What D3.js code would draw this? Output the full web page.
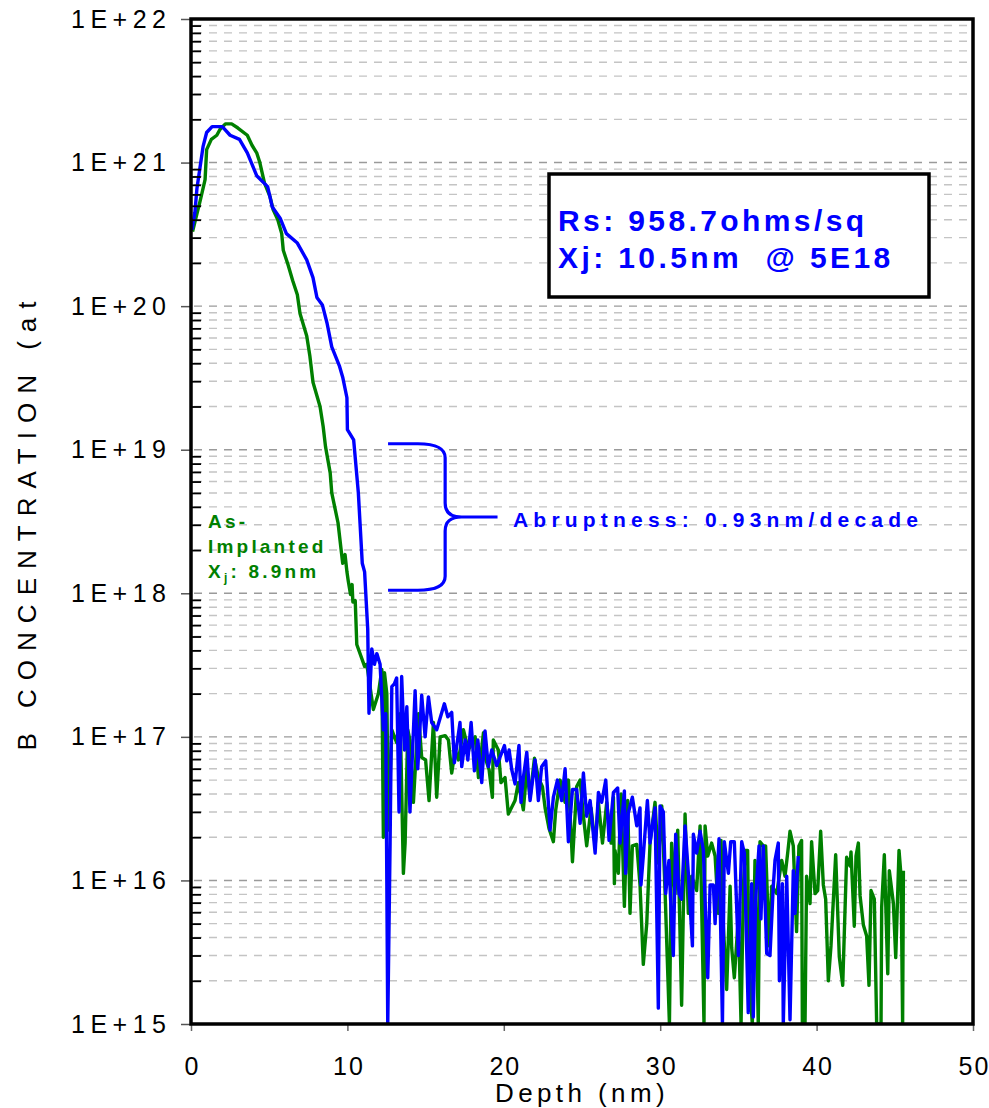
<!DOCTYPE html>
<html>
<head>
<meta charset="utf-8">
<script src="https://cdn.jsdelivr.net/npm/d3@7"></script>
<style>
  html, body { margin: 0; padding: 0; background: #fff; }
  svg { display: block; font-family: "Liberation Sans", Arial, sans-serif; }
</style>
</head>
<body>
<svg id="chart" width="989" height="1108"></svg>
<script>
// ---------- data ----------
const xTickValues = [0, 10, 20, 30, 40, 50];
const yTickValues = [1e15, 1e16, 1e17, 1e18, 1e19, 1e20, 1e21, 1e22];
const yTickLabels = ["1E+15", "1E+16", "1E+17", "1E+18", "1E+19", "1E+20", "1E+21", "1E+22"];

// Annealed profile (blue)
const blueDepth = [0.06,0.25,0.38,0.77,1.0,1.35,2.0,2.5,3.1,3.6,4.2,4.9,5.2,5.7,6.1,6.8,7.4,7.8,8.05,8.4,8.7,9.0,9.5,9.7,9.97,10.0,10.4,10.7,10.95,11.1,
  11.3,11.38,11.56,11.73,11.88,12.09,12.3,12.45,12.58,12.73,12.84,13.0,13.15,13.3,13.47,13.65,13.8,14.0,14.33,14.5,14.75,14.97,15.18,15.39,15.71,16.2,16.42,16.67,16.84,17.2,
  17.31,17.53,17.7,17.91,18.12,18.34,18.59,18.8,19.01,19.23,19.55,20.04,20.19,20.34,20.51,20.72,20.97,21.1,21.25,21.47,21.68,22.0,22.21,22.42,22.68,22.96,23.17,23.43,23.7,23.92,
  24.13,24.39,24.66,24.88,25.09,25.3,25.52,25.84,26.05,26.26,26.52,26.73,27.01,27.28,27.43,27.71,27.79,27.96,28.22,28.5,28.71,28.77,28.92,29.18,29.35,29.5,29.67,29.88,29.99,30.2,
  30.35,30.56,30.69,30.84,30.99,31.2,31.37,31.59,31.8,32.06,32.12,32.33,32.55,32.76,33.04,33.19,33.4,33.51,33.76,33.98,34.1,34.36,34.51,34.74,35.0,35.21,35.38,35.63,35.85,35.95,
  36.1,36.32,36.44,36.59,36.81,37.02,37.23,37.34,37.55,37.62,37.81,37.87,38.09,38.3,38.51,38.62,38.83];
const blueConc = [3.4e20,4.5e20,6.6e20,1.29e21,1.62e21,1.78e21,1.78e21,1.55e21,1.45e21,1.17e21,8.1e20,6.8e20,4.9e20,4.1e20,3.2e20,2.75e20,2.1e20,1.58e20,1.15e20,1.02e20,7.6e19,5.2e19,3.8e19,3.2e19,2.3e19,1.38e19,1.17e19,5.0e18,1.62e18,1.41e18,
  5.6e17,1.46e17,4.1e17,3.2e17,3.8e17,3.2e17,1.12e17,1.45e17,1e15,1.82e16,2.24e17,2.34e17,2.57e17,3.0e16,2.63e17,8.1e16,1.62e17,3.0e16,2.1e17,6.0e16,1.95e17,1.0e17,1.9e17,1.26e17,1.12e17,1.7e17,1.38e17,1.48e17,6.6e16,1.26e17,
  6.2e16,9.5e16,6.9e16,1.26e17,5.8e16,9.5e16,4.8e16,1.1e17,6.2e16,8.1e16,6.3e16,8.7e16,6.8e16,8.1e16,5.9e16,4.7e16,8.7e16,3.5e16,5.2e16,7.8e16,3.6e16,6.9e16,3.6e16,6.2e16,6.8e16,2.24e16,3.8e16,5.0e16,3.6e16,6.0e16,
  1.86e16,4.3e16,4.3e16,2.5e16,5.6e16,2.8e16,3.6e16,1.55e16,4.1e16,3.5e16,5.0e16,1.9e16,4.1e16,4.4e16,1.82e16,4.2e16,1.12e16,2.95e16,3.8e16,2.4e16,3.2e16,9.3e15,1.48e16,3.6e16,1.82e16,2.4e16,3.2e16,1.29e15,3.3e16,3.0e16,
  8.1e15,1.38e16,6.3e15,3.0e15,2.1e16,8.1e15,7.4e15,2.4e16,1.12e16,3.5e15,2.1e16,1.55e16,2.2e16,1.62e16,2.1e15,9.3e15,9.3e15,5.0e15,1.95e16,1e15,1.86e16,1.12e16,1.86e16,1.86e16,3.0e15,1.86e16,1.55e16,1.2e15,9.5e15,1.12e15,
  7.4e15,1.74e16,5.4e15,1.74e16,3.1e15,3.0e15,9.1e15,1.38e16,1.82e16,2.0e15,9.5e15,1e15,1.07e16,1.07e15,1.17e16,5.9e15,1.48e16];

// As-implanted profile (green)
const greenDepth = [0.1,0.6,0.9,1.0,1.3,1.65,1.85,2.2,2.6,3.0,3.6,3.9,4.2,4.4,4.7,5.05,5.25,5.55,5.8,5.9,6.2,6.5,6.8,6.97,7.4,7.6,7.8,8.25,8.45,8.6,
  8.9,9.0,9.4,9.6,9.7,9.85,9.97,10.05,10.2,10.3,10.35,10.5,10.6,11.1,11.24,11.66,11.98,12.2,12.3,12.37,12.52,12.62,12.84,13.15,13.37,13.58,13.69,13.86,14.0,14.22,
  14.54,14.75,15.0,15.22,15.5,15.71,15.93,16.25,16.46,16.67,16.89,17.1,17.42,17.74,18.17,18.38,18.7,18.8,19.06,19.27,19.33,19.65,19.82,20.08,20.29,20.72,20.93,21.25,21.47,21.68,
  21.96,22.21,22.47,22.64,22.89,23.17,23.32,23.6,23.92,24.13,24.39,24.66,24.88,25.09,25.3,25.58,25.84,26.05,26.31,26.58,26.86,27.01,27.07,27.11,27.32,27.5,27.71,27.92,28.07,28.22,
  28.5,28.71,28.92,29.14,29.35,29.67,29.88,30.1,30.31,30.59,30.73,30.95,31.12,31.37,31.59,31.8,32.01,32.33,32.55,32.8,32.87,33.04,33.29,33.51,33.72,33.89,34.04,34.25,34.47,34.57,
  34.74,35.0,35.17,35.32,35.42,35.59,35.68,35.89,36.06,36.27,36.38,36.59,36.74,36.96,37.13,37.45,37.77,37.98,38.15,38.3,38.51,38.72,38.87,39.04,39.09,39.26,39.36,39.58,39.68,39.9,
  40.07,40.26,40.43,40.58,40.75,40.92,41.22,41.45,41.67,41.92,42.14,42.2,42.41,42.52,42.67,42.78,42.99,43.2,43.35,43.48,43.69,43.84,44.12,44.16,44.33,44.55,44.65,44.91,45.06,45.27,
  45.4,45.5,45.55];
const greenConc = [3.3e20,5.5e20,7.6e20,1.23e21,1.45e21,1.55e21,1.7e21,1.86e21,1.86e21,1.74e21,1.55e21,1.32e21,1.17e21,1.0e21,7.2e20,5.8e20,4.7e20,4.0e20,3.2e20,2.45e20,1.95e20,1.51e20,1.2e20,8.9e19,6.2e19,4.5e19,2.95e19,2.0e19,1.45e19,1.05e19,
  6.9e18,5.0e18,3.1e18,2.0e18,1.62e18,1.86e18,1.41e18,1.23e18,9.8e17,1.15e18,8.7e17,8.9e17,4.4e17,3.1e17,3.2e17,1.55e17,2.0e17,2.95e17,2.0e16,2.8e17,2.0e17,2.24e16,1.12e17,9.1e16,1.45e17,1.12e16,1.82e16,1.12e17,9.5e16,3.5e16,
  1.45e17,7.2e16,6.9e16,3.6e16,1.26e17,3.8e16,1.0e17,1.02e17,9.5e16,5.6e16,8.1e16,6.9e16,1.12e17,8.1e16,1.0e17,5.2e16,1.07e17,7.2e16,5.9e16,3.8e16,9.5e16,8.1e16,4.8e16,5.2e16,2.9e16,3.6e16,4.8e16,3.1e16,5.9e16,3.8e16,
  7.1e16,5.2e16,4.5e16,3.2e16,2.3e16,1.86e16,3.1e16,5.0e16,3.5e16,5.0e16,1.35e16,4.5e16,5.0e16,2.8e16,1.74e16,3.2e16,1.74e16,3.5e16,1.82e16,3.5e16,1.82e16,3.8e16,9.5e15,1.62e16,1.12e16,4.0e16,6.6e15,3.6e16,5.9e15,1.74e16,
  1.78e16,9.3e15,2.6e15,5.0e15,1.82e16,3.5e16,1.32e16,3.3e16,8.5e15,1e15,1.82e16,8.1e15,2.24e16,1.35e15,2.9e16,5.9e15,1.07e16,8.5e15,2.4e16,1e15,2.4e16,1.48e16,1.82e16,1.48e16,5.9e15,1.9e16,4.8e15,1.74e15,9.1e15,3.4e15,
  2.1e15,5.6e15,1e15,8.9e15,1.62e16,1.62e16,2.24e15,1e15,1.38e16,1e15,1.86e16,1.74e16,1.74e16,3.5e15,9.1e15,8.1e15,1.38e16,1.07e16,1.55e16,2.2e16,1.74e16,4.4e15,1.74e16,1.9e16,1e15,1e15,1.07e16,6.9e15,1.86e16,8.1e15,
  8.5e15,2.2e16,9.3e15,7.4e15,2.0e15,3.5e15,1.51e16,2.95e15,1.86e15,1.45e16,1.26e16,1.58e16,4.8e15,1.48e16,1.82e16,7.8e15,4.9e15,4.1e15,1.86e15,8.5e15,7.4e15,1e15,1e15,6.5e15,1.51e16,2.24e15,1.17e16,6.9e15,2.9e15,1.62e16,
  1.07e16,1e15,1.17e16];

// Abruptness bracket (depth, concentration)
const bracketDepths = [12.6, 14.5, 16.25, 17.3, 19.6];
const bracketConc = [1.1e19, 3.4e18, 1.05e18];

const infoLines = ["Rs: 958.7ohms/sq", "Xj: 10.5nm  @ 5E18"];
const abruptText = "Abruptness: 0.93nm/decade";

// ---------- layout ----------
const L = 191, R = 973, T = 19, B = 1024;
const BLUE = "#0000ff", GREEN = "#008000";
const svg = d3.select("#chart");
const x = d3.scaleLinear().domain([0, 50]).range([L, R]);
const y = d3.scaleLog().domain([1e15, 1e22]).range([B, T]);

// grid lines
const minorVals = [];
for (let e = 15; e < 22; e++) for (let k = 2; k <= 9; k++) minorVals.push(k * Math.pow(10, e));
const majorInner = yTickValues.filter(v => v > 1e15 && v < 1e22);

svg.append("g").selectAll("line").data(minorVals).join("line")
  .attr("x1", L + 3).attr("x2", R).attr("y1", d => y(d)).attr("y2", d => y(d))
  .attr("stroke", "#c4c4c4").attr("stroke-width", 1.4).attr("stroke-dasharray", "8,7");
svg.append("g").selectAll("line").data(majorInner).join("line")
  .attr("x1", L + 3).attr("x2", R).attr("y1", d => y(d)).attr("y2", d => y(d))
  .attr("stroke", "#9a9a9a").attr("stroke-width", 1.4).attr("stroke-dasharray", "8,7");

// clip
svg.append("clipPath").attr("id", "clip").append("rect")
  .attr("x", L).attr("y", T).attr("width", R - L).attr("height", B - T);

const line = d3.line().x(d => x(d[0])).y(d => y(d[1]));
const greenData = greenDepth.map((d, i) => [d, greenConc[i]]);
const blueData = blueDepth.map((d, i) => [d, blueConc[i]]);

const plot = svg.append("g").attr("clip-path", "url(#clip)");
plot.append("path").datum(greenData).attr("d", line)
  .attr("fill", "none").attr("stroke", GREEN).attr("stroke-width", 3.4).attr("stroke-linejoin", "round");
plot.append("path").datum(blueData).attr("d", line)
  .attr("fill", "none").attr("stroke", BLUE).attr("stroke-width", 3.4).attr("stroke-linejoin", "round");

// axes
const ySpacing = 5.5;
const yAxis = svg.append("g").attr("transform", `translate(${L},0)`)
  .call(d3.axisLeft(y).tickValues(yTickValues).tickSize(10).tickPadding(15)
    .tickFormat((d, i) => yTickLabels[i]));
yAxis.select(".domain").remove();
yAxis.selectAll(".tick line").attr("stroke", "#555").attr("stroke-width", 1.5);
yAxis.selectAll(".tick text").attr("font-size", 25).attr("fill", "#000")
  .attr("font-family", "'Liberation Sans', Arial, sans-serif")
  .style("letter-spacing", ySpacing + "px").attr("dx", ySpacing);

const yMinor = svg.append("g").attr("transform", `translate(${L},0)`)
  .call(d3.axisRight(y).tickValues(minorVals).tickSize(10).tickFormat(""));
yMinor.select(".domain").remove();
yMinor.selectAll(".tick line").attr("stroke", "#000").attr("stroke-width", 1.8);

const xAxis = svg.append("g").attr("transform", `translate(0,${B})`)
  .call(d3.axisBottom(x).tickValues(xTickValues).tickSize(7).tickPadding(26));
xAxis.select(".domain").remove();
xAxis.selectAll(".tick line").attr("stroke", "#666").attr("stroke-width", 1.5);
xAxis.selectAll(".tick text").attr("font-size", 25).attr("fill", "#000")
  .attr("font-family", "'Liberation Sans', Arial, sans-serif")
  .style("letter-spacing", "2px").attr("dx", "1px");

// frame
svg.append("rect").attr("x", L).attr("y", T).attr("width", R - L).attr("height", B - T)
  .attr("fill", "none").attr("stroke", "#000").attr("stroke-width", 3.5);

// axis titles
svg.append("text").attr("x", (L + R) / 2).attr("y", 1102).attr("text-anchor", "middle")
  .attr("font-size", 26).style("letter-spacing", "4.4px").text("Depth (nm)");
svg.append("text").attr("transform", `translate(36,${(T + B) / 2}) rotate(-90)`)
  .attr("text-anchor", "middle").attr("font-size", 26).style("letter-spacing", "9px")
  .text("B CONCENTRATION (at");

// info box
svg.append("rect").attr("x", 549).attr("y", 174).attr("width", 380).attr("height", 123)
  .attr("fill", "#fff").attr("stroke", "#000").attr("stroke-width", 3.5);
svg.append("g").selectAll("text").data(infoLines).join("text")
  .attr("x", 558).attr("y", (d, i) => 231 + i * 37)
  .attr("font-size", 30).attr("font-weight", "bold").attr("fill", BLUE)
  .style("letter-spacing", "3.4px").style("white-space", "pre").text(d => d);

// abruptness bracket
const [b0, b1, bx, bt, b2] = bracketDepths.map(d => x(d));
const yT = y(bracketConc[0]), yM = y(bracketConc[1]), yB = y(bracketConc[2]);
const bp = d3.path();
bp.moveTo(b0, yT); bp.lineTo(b1, yT);
bp.quadraticCurveTo(bx, yT, bx, yT + 14);
bp.lineTo(bx, yM - 14);
bp.quadraticCurveTo(bx, yM, bt, yM);
bp.lineTo(b2, yM);
bp.moveTo(bt, yM);
bp.quadraticCurveTo(bx, yM, bx, yM + 14);
bp.lineTo(bx, yB - 14);
bp.quadraticCurveTo(bx, yB, b1, yB);
bp.lineTo(b0, yB);
svg.append("path").attr("d", bp.toString()).attr("fill", "none")
  .attr("stroke", BLUE).attr("stroke-width", 3.2);
svg.append("text").attr("x", 513).attr("y", yM + 10)
  .attr("font-size", 21).attr("font-weight", "bold").attr("fill", BLUE)
  .style("letter-spacing", "5.2px").text(abruptText);

// as-implanted annotation
const g = svg.append("g").attr("fill", GREEN).attr("font-size", 19).attr("font-weight", "bold")
  .style("letter-spacing", "3.2px");
g.append("text").attr("x", 208).attr("y", 528).text("As-");
g.append("text").attr("x", 208).attr("y", 553).text("Implanted");
const xj = g.append("text").attr("x", 208).attr("y", 578);
xj.append("tspan").text("X");
xj.append("tspan").attr("font-size", 12).attr("dy", 4).text("j");
xj.append("tspan").attr("dy", -4).text(": 8.9nm");
</script>
</body>
</html>
